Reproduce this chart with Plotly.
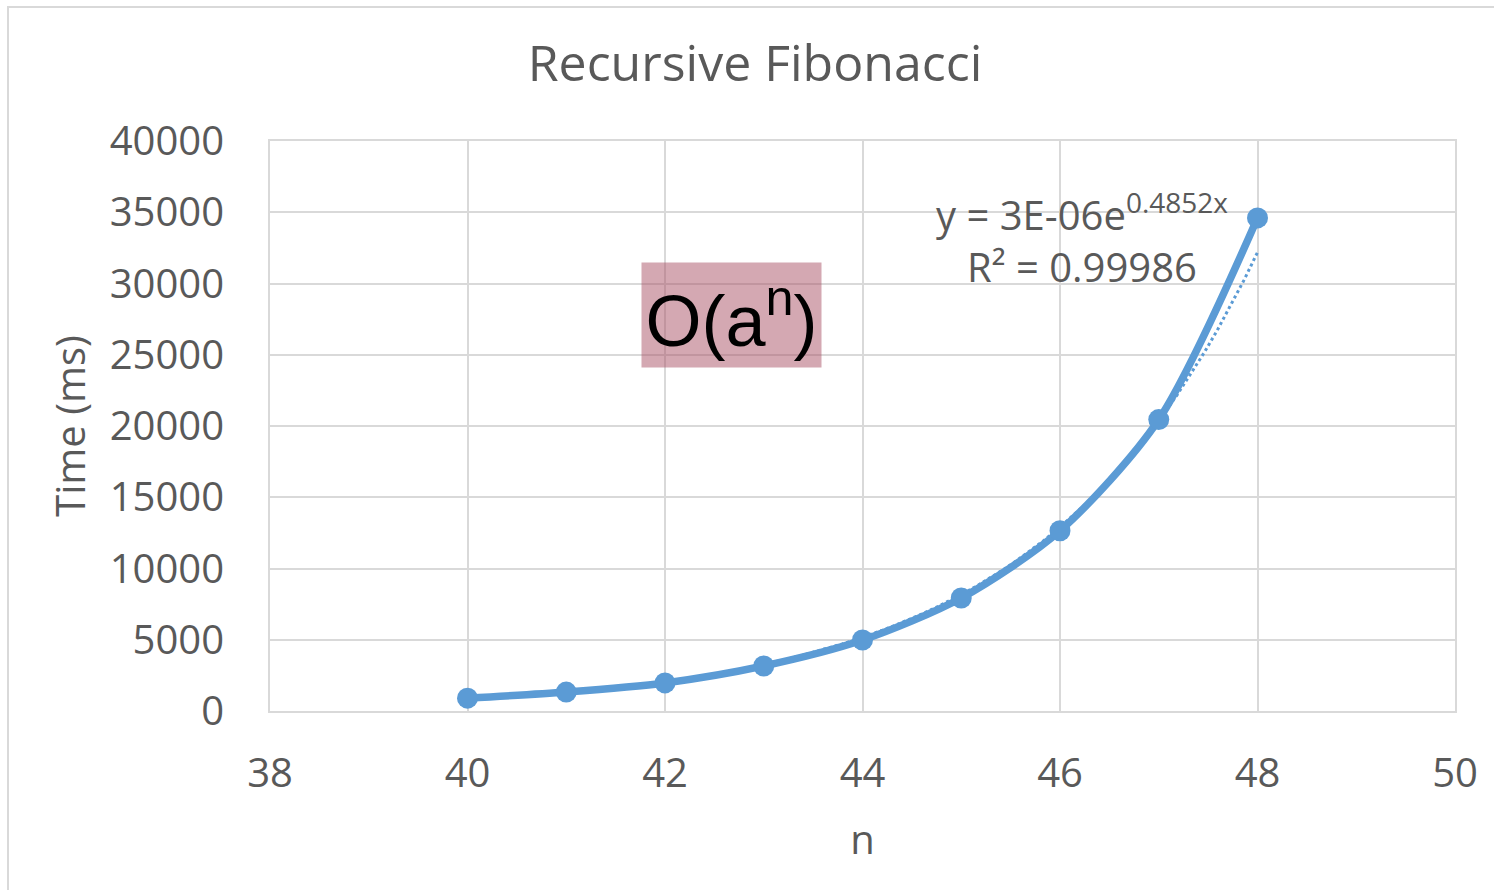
import numpy as np
import plotly.graph_objects as go

# Data
n_values = [40, 41, 42, 43, 44, 45, 46, 47, 48]
time_ms = [900, 1330, 1970, 3160, 4980, 7930, 12650, 20450, 34600]
x_ticks = [38, 40, 42, 44, 46, 48, 50]
y_ticks = [0, 5000, 10000, 15000, 20000, 25000, 30000, 35000, 40000]
y_tick_labels = ["0", "5000", "10000", "15000", "20000", "25000", "30000", "35000", "40000"]

title_text = "Recursive Fibonacci"
x_title = "n"
y_title = "Time (ms)"
equation_text = "y = 3E-06e<sup>0.4852x</sup><br>R² = 0.99986"
box_text = "O(a<sup>n</sup>)"

BLUE = "#5B9BD5"
GRAY = "#595959"
GRID = "#D9D9D9"
FONT = "Open Sans"

# exponential trendline fitted from the data
coef = np.polyfit(n_values, np.log(time_ms), 1)
trend_x = np.linspace(n_values[0], n_values[-1], 60)
trend_y = np.exp(coef[1]) * np.exp(coef[0] * trend_x)

fig = go.Figure()
fig.add_trace(go.Scatter(
    x=trend_x, y=trend_y, mode="lines",
    line=dict(color=BLUE, width=3, dash="dot"),
    showlegend=False, hoverinfo="skip"))
fig.add_trace(go.Scatter(
    x=n_values, y=time_ms, mode="lines+markers",
    line=dict(color=BLUE, width=7.5, shape="spline", smoothing=0.8),
    marker=dict(color=BLUE, size=21),
    showlegend=False))

L, T, R, B = 270, 141, 1455, 711
W, H = 1494, 890

fig.update_layout(
    width=W, height=H, autosize=False,
    margin=dict(l=L, r=W - R, t=T, b=H - B),
    paper_bgcolor="white", plot_bgcolor="white",
    font=dict(family=FONT, color=GRAY, size=40),
    title=dict(text=title_text, x=(755) / W, xanchor="center",
               y=1 - 63 / H, yanchor="middle",
               font=dict(family=FONT, size=50, color=GRAY)),
    xaxis=dict(range=[38, 50], tickvals=x_ticks, showgrid=True,
               gridcolor=GRID, gridwidth=2, zeroline=False,
               showline=True, linecolor=GRID, linewidth=2, mirror=True,
               ticks="outside", ticklen=26, tickcolor="rgba(0,0,0,0)",
               tickfont=dict(size=40, color=GRAY, family=FONT),
               title=dict(text=x_title, standoff=28,
                          font=dict(size=40, color=GRAY, family=FONT))),
    yaxis=dict(range=[0, 40000], tickvals=y_ticks, ticktext=y_tick_labels,
               showgrid=True,
               gridcolor=GRID, gridwidth=2, zeroline=False,
               showline=True, linecolor=GRID, linewidth=2, mirror=True,
               ticks="outside", ticklen=36, tickcolor="rgba(0,0,0,0)",
               tickfont=dict(size=40, color=GRAY, family=FONT),
               title=dict(text=y_title, standoff=12,
                          font=dict(size=40, color=GRAY, family=FONT))),
)

# outer chart border (top and left visible)
fig.add_shape(type="rect", xref="paper", yref="paper",
              x0=(8 - L) / (R - L), x1=(W + 10 - L) / (R - L),
              y0=(B - (H + 10)) / (B - T), y1=(B - 7) / (B - T),
              line=dict(color=GRID, width=2), fillcolor="rgba(0,0,0,0)",
              layer="below")

# trendline equation
fig.add_annotation(xref="paper", yref="paper",
                   x=(1082 - L) / (R - L), y=(B - 238) / (B - T),
                   xanchor="center", yanchor="middle",
                   text=equation_text, showarrow=False, align="center",
                   font=dict(size=40, color=GRAY, family=FONT))

# O(a^n) box
fig.add_annotation(xref="paper", yref="paper",
                   x=(731.5 - L) / (R - L), y=(B - 315) / (B - T),
                   xanchor="center", yanchor="middle",
                   width=179, height=104, borderpad=0,
                   bgcolor="rgba(169,81,101,0.5)",
                   text=box_text, showarrow=False, align="center",
                   font=dict(size=72, color="black", family="Liberation Sans"))

fig.write_html("out.html")
